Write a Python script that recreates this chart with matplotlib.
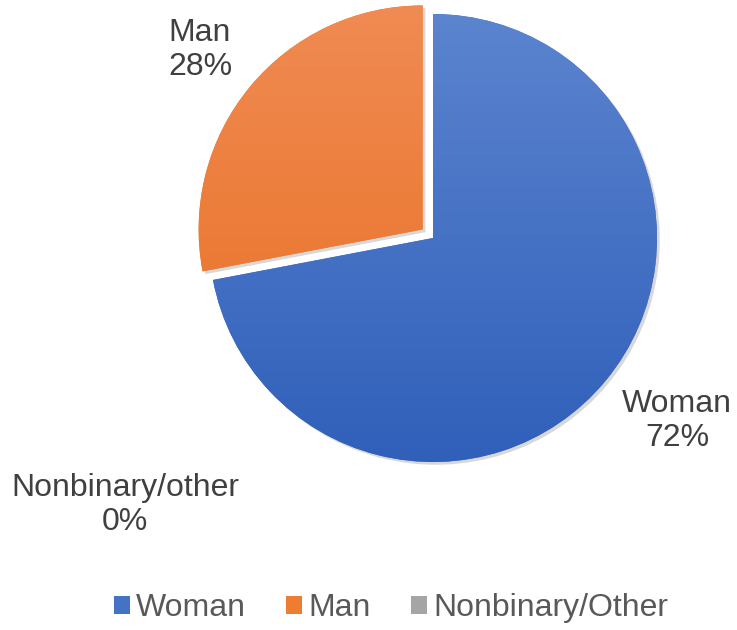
import numpy as np
import matplotlib.pyplot as plt
import matplotlib.patheffects as pe
from matplotlib.patches import Patch
from matplotlib.colors import LinearSegmentedColormap

# data
categories = ['Woman', 'Man', 'Nonbinary/Other']
label_names = ['Woman', 'Man', 'Nonbinary/other']
shares = [72, 28, 0]
top_colors = ['#5E86D0', '#F08C55', '#B0B0B0']
bottom_colors = ['#2E5EB9', '#E86C1C', '#959595']
mid_colors = ['#4472C4', '#ED7D31', '#A5A5A5']

plt.rcParams['font.family'] = ['Liberation Sans', 'DejaVu Sans']

fig = plt.figure(figsize=(7.37, 6.3), dpi=100)
ax = fig.add_axes([0, 0, 1, 1])
ax.axis('off')

wedges, _ = ax.pie(shares, startangle=90, counterclock=False, radius=1,
                   colors=mid_colors, explode=[0, 0.06, 0],
                   wedgeprops=dict(linewidth=0))

# vertical gradient + soft shadow for each slice
for w, c_top, c_bot, v in zip(wedges, top_colors, bottom_colors, shares):
    if v == 0:
        w.set_visible(False)
        continue
    w.set_path_effects([pe.SimplePatchShadow(offset=(2, -2), shadow_rgbFace='gray', alpha=0.3),
                        pe.Normal()])
    cmap = LinearSegmentedColormap.from_list('g', [c_bot, c_top])
    grad = np.linspace(0, 1, 256).reshape(-1, 1)
    im = ax.imshow(grad, cmap=cmap, origin='lower', aspect='auto',
                   extent=[-1.2, 1.2, -1.1, 1.1], zorder=3)
    im.set_clip_path(w)

# centre of pie at (433, 238) px, radius 224 px
ax.set_xlim(-433 / 224, (737 - 433) / 224)
ax.set_ylim(-(630 - 238) / 224, 238 / 224)
ax.set_aspect('auto')

# data labels
label_pos = [(677, 421), (200, 50), (125, 505)]
for name, v, (px, py) in zip(label_names, shares, label_pos):
    fig.text(px / 737, 1 - py / 630, f'{name}\n{v}%', ha='center', va='center',
             fontsize=23, color='#404040', linespacing=1.2)

handles = [Patch(facecolor=c, edgecolor='none') for c in mid_colors]
fig.legend(handles, categories, loc='center', bbox_to_anchor=(391 / 737, 1 - 608 / 630),
           ncol=3, frameon=False, fontsize=23, handlelength=0.5, handleheight=0.5,
           handletextpad=0.2, columnspacing=1.25, labelcolor='#595959')

fig.savefig('out.png', dpi=100)
